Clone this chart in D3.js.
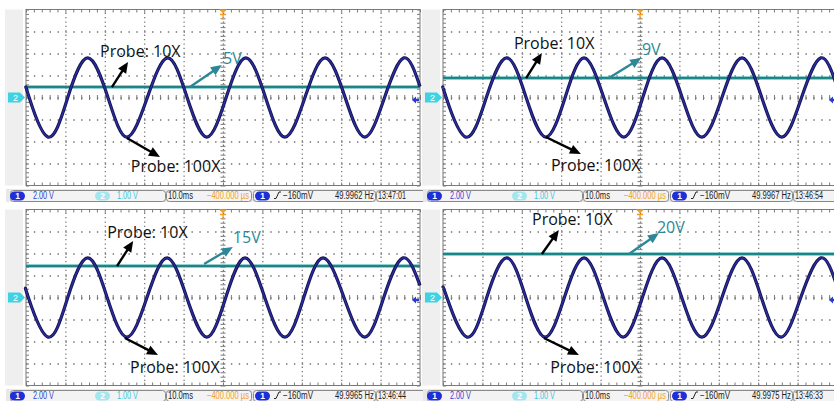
<!DOCTYPE html>
<html>
<head>
<meta charset="utf-8">
<script src="https://cdn.jsdelivr.net/npm/d3@7"></script>
<style>
body{margin:0;background:#fff;}
svg{display:block;}
</style>
</head>
<body>
<div id="chart"></div>
<script>
var w = 834;
var h = 401;

// CH2 (10X probe) trace level in volts, 1 V/div
var levelLabels = ["5V", "9V", "15V", "20V"];
var ch2Levels = [0.48, 0.89, 1.43, 1.98];

var freqLabels = ["49.9962 Hz", "49.9967 Hz", "49.9965 Hz", "49.9975 Hz"];
var clockLabels = ["13:47:01", "13:46:54", "13:46:44", "13:46:33"];
var ch1Scale = "2.00 V";
var ch2Scale = "1.00 V";
var timeBase = "10.0ms";
var delayLabel = "\u2212400.000 \u00b5s";
var trigLabel = "\u2212160mV";
var probeLabels = ["Probe: 10X", "Probe: 100X"];

// CH1 (100X probe) trace: [time ms from left edge, volts] at peaks, troughs and crossings
var waveTL = [[0,0.9],[0.8,0],[5.6,-3.6],[10.6,0],[15.7,3.6],[20.8,0],[25.6,-3.6],[30.8,0],[36.0,3.6],[40.9,0],[45.9,-3.6],[50.8,0],[55.8,3.6],[60.8,0],[65.7,-3.6],[70.8,0],[75.9,3.6],[81.0,0],[86.0,-3.6],[91.0,0],[95.9,3.6],[100,1.0]];
var waveTR = [[0,0.9],[0.8,0],[5.8,-3.6],[11.0,0],[16.2,3.6],[21.1,0],[26.1,-3.6],[31.0,0],[35.8,3.6],[40.8,0],[45.9,-3.6],[50.7,0],[55.6,3.6],[60.7,0],[65.7,-3.6],[70.8,0],[75.9,3.6],[80.9,0],[86.0,-3.6],[91.0,0],[95.9,3.6],[100,1.0]];
var waveBL = [[0,0.7],[0.6,0],[5.6,-3.6],[10.6,0],[15.7,3.6],[20.6,0],[25.6,-3.6],[30.7,0],[35.8,3.6],[40.8,0],[45.9,-3.6],[50.7,0],[55.6,3.6],[60.6,0],[65.7,-3.6],[70.5,0],[75.4,3.6],[80.7,0],[86.0,-3.6],[90.8,0],[95.7,3.6],[100,1.1]];
var waveBR = [[0,0.9],[1.0,0],[6.1,-3.6],[11.1,0],[16.2,3.6],[21.0,0],[25.9,-3.6],[30.8,0],[35.8,3.6],[40.7,0],[45.7,-3.6],[50.6,0],[55.6,3.6],[60.6,0],[65.7,-3.6],[70.8,0],[75.9,3.6],[80.8,0],[85.8,-3.6],[90.8,0],[95.9,3.6],[100,1.0]];
var waves = [waveTL, waveTR, waveBL, waveBR];

// annotation anchors in (ms, CH1 volts): text start, arrow tail, arrow tip
var notes10 = [
	{text:[18.8,3.64], from:[21.8,0.95], to:[25.9,3.23]},
	{text:[18.0,4.45], from:[21.1,1.77], to:[25.1,4.05]},
	{text:[20.6,5.45], from:[23.1,2.86], to:[27.2,5.14]},
	{text:[22.6,6.55], from:[25.1,3.95], to:[29.4,6.14]}
];
var notes100 = [
	{text:[26.6,-6.73], from:[25.6,-3.68], to:[34.0,-5.41]},
	{text:[27.4,-6.64], from:[26.1,-3.59], to:[35.0,-5.14]},
	{text:[26.4,-6.82], from:[25.1,-3.68], to:[33.5,-5.23]},
	{text:[27.2,-6.82], from:[25.6,-3.68], to:[34.5,-5.23]}
];
var notesLevel = [
	{text:[50.0,3.09], from:[41.6,0.95], to:[49.7,2.95]},
	{text:[50.5,3.82], from:[42.1,1.77], to:[50.3,3.59]},
	{text:[52.5,5.0], from:[45.2,3.05], to:[52.5,4.59]},
	{text:[54.3,5.9], from:[47.2,3.95], to:[54.8,5.86]}
];

var offsets = [[0,0],[417,0],[0,200],[417,200]];

function arrow(g, x1, y1, x2, y2, color){
	var dx = x2 - x1, dy = y2 - y1;
	var len = Math.sqrt(dx*dx + dy*dy);
	var ux = dx/len, uy = dy/len;
	var hl = 11, hw = 4.8;
	var bx = x2 - ux*hl, by = y2 - uy*hl;
	g.append("line")
		.attr("x1", x1).attr("y1", y1)
		.attr("x2", bx + ux*2).attr("y2", by + uy*2)
		.attr("stroke", color)
		.attr("stroke-width", 2.4);
	g.append("path")
		.attr("d", "M" + x2 + "," + y2 +
			"L" + (bx - uy*hw) + "," + (by + ux*hw) +
			"L" + (bx + uy*hw) + "," + (by - ux*hw) + "Z")
		.attr("fill", color);
}

// squeeze a status text horizontally to the width seen on the scope
function narrow(t, x, y, width){
	var natural = t.node().getComputedTextLength();
	var sx = width / natural;
	t.attr("x", 0).attr("y", 0)
		.attr("transform", "translate(" + x + "," + y + ") scale(" + sx + ",1)");
}

function init(){
	var svg = d3.select("#chart")
				.append("svg")
				.attr("width", w)
				.attr("height", h);

	svg.append("rect").attr("width", w).attr("height", h).attr("fill", "#fff");

	offsets.forEach(function(o, i){
		var right = (o[0] == 0) ? 422 : w - o[0];
		var g = svg.append("g").attr("transform", "translate(" + o[0] + "," + o[1] + ")");

		var x = d3.scaleLinear().domain([0, 100]).range([26, 420]);
		var y = d3.scaleLinear().domain([-8, 8]).range([185.5, 9.5]);
		var y2 = d3.scaleLinear().domain([-4, 4]).range([185.5, 9.5]);
		var pw = x(100) - x(0), ph = y(-8) - y(8);

		// left margin strip
		g.append("rect")
			.attr("x", 5).attr("y", 9.5)
			.attr("width", 18).attr("height", ph)
			.attr("fill", "#efefef");

		g.append("rect")
			.attr("x", x(0)).attr("y", y(8))
			.attr("width", pw).attr("height", ph)
			.attr("fill", "#fff")
			.attr("stroke", "#7a7a7a");

		// dotted graticule
		var hg = g.append("g")
			.attr("transform", "translate(" + x(0) + ",0)")
			.call(d3.axisLeft(y).tickValues(d3.range(-6, 7, 2)).tickSize(-pw).tickFormat(""));
		hg.select(".domain").remove();
		hg.selectAll("line").attr("stroke", "#6f6f6f").attr("stroke-width", 1.3)
			.attr("stroke-dasharray", "1.4," + (pw/50 - 1.4));

		var vg = g.append("g")
			.attr("transform", "translate(0," + y(-8) + ")")
			.call(d3.axisBottom(x).tickValues(d3.range(10, 100, 10)).tickSize(-ph).tickFormat(""));
		vg.select(".domain").remove();
		vg.selectAll("line").attr("stroke", "#6f6f6f").attr("stroke-width", 1.2)
			.attr("stroke-dasharray", "1.3," + (ph/40 - 1.3));

		// minor ticks on border and centre lines
		var minorX = d3.range(0, 100.01, 2);
		var minorY = d3.range(-8, 8.01, 0.4);
		var ticks = [
			[d3.axisBottom(x).tickValues(minorX).tickSize(-3), "translate(0," + y(-8) + ")"],
			[d3.axisTop(x).tickValues(minorX).tickSize(-3), "translate(0," + y(8) + ")"],
			[d3.axisBottom(x).tickValues(minorX).tickSize(5), "translate(0," + (y(0) - 2.5) + ")"],
			[d3.axisRight(y).tickValues(minorY).tickSize(3), "translate(" + x(0) + ",0)"],
			[d3.axisLeft(y).tickValues(minorY).tickSize(3), "translate(" + x(100) + ",0)"],
			[d3.axisRight(y).tickValues(minorY).tickSize(5), "translate(" + (x(50) - 2.5) + ",0)"]
		];
		ticks.forEach(function(t){
			var a = g.append("g").attr("transform", t[1]).call(t[0].tickFormat(""));
			a.select(".domain").remove();
			a.selectAll("line").attr("stroke", "#7a7a7a");
		});

		// CH2 trace (flat)
		var lvl = ch2Levels[i];
		var flat = d3.line().x(function(d){ return x(d[0]); }).y(function(d){ return y2(d[1]); });
		g.append("path")
			.attr("d", flat([[0, lvl], [100, lvl]]))
			.attr("stroke", "#27a3a3").attr("stroke-width", 3).attr("fill", "none");
		g.append("path")
			.attr("d", flat([[0, lvl], [100, lvl]]))
			.attr("stroke", "#1b5c60").attr("stroke-width", 0.9).attr("fill", "none");

		// CH1 trace (sine)
		var line = d3.line()
			.x(function(d){ return x(d[0]); })
			.y(function(d){ return y(d[1]); })
			.curve(d3.curveNatural);
		g.append("path")
			.attr("d", line(waves[i]))
			.attr("stroke", "#14144a").attr("stroke-width", 3.2).attr("fill", "none");
		g.append("path")
			.attr("d", line(waves[i]))
			.attr("stroke", "#2c2ca8").attr("stroke-width", 1.4).attr("fill", "none");

		// channel 2 ground marker
		var gy = y2(0);
		g.append("path")
			.attr("d", "M8," + (gy-5) + "H20L25," + gy + "L20," + (gy+5) + "H8Z")
			.attr("fill", "#3fd2e2");
		g.append("text")
			.attr("x", 13).attr("y", gy + 3.5)
			.attr("font-family", "Liberation Sans, Arial, sans-serif")
			.attr("font-size", 9).attr("fill", "#fff")
			.text("2");

		// channel 1 marker at right edge
		var cy = y(0) + 2.5;
		g.append("path")
			.attr("d", "M412," + cy + "l4,-3.5v2.3h3v2.4h-3v2.3Z")
			.attr("fill", "#2a3ad8");

		// trigger position marker
		var tx = x(50);
		g.append("path")
			.attr("d", "M" + (tx-4) + "," + y(8) + "h8l-4,4Z")
			.attr("fill", "#f0a030");
		g.append("path")
			.attr("d", "M" + (tx-3) + "," + (y(8)+5) + "h6M" + tx + "," + (y(8)+5) + "v5")
			.attr("stroke", "#f0a030").attr("stroke-width", 1.4);

		// annotations
		var font = "'Open Sans', sans-serif";
		var n = notes10[i];
		arrow(g, x(n.from[0]), y(n.from[1]), x(n.to[0]), y(n.to[1]), "#000");
		g.append("text").attr("x", x(n.text[0])).attr("y", y(n.text[1]))
			.attr("font-family", font).attr("font-size", 16).attr("fill", "#111")
			.text(probeLabels[0]);
		n = notes100[i];
		arrow(g, x(n.from[0]), y(n.from[1]), x(n.to[0]), y(n.to[1]), "#000");
		g.append("text").attr("x", x(n.text[0])).attr("y", y(n.text[1]))
			.attr("font-family", font).attr("font-size", 16).attr("fill", "#111")
			.text(probeLabels[1]);
		n = notesLevel[i];
		arrow(g, x(n.from[0]), y(n.from[1]), x(n.to[0]), y(n.to[1]), "#2c8898");
		g.append("text").attr("x", x(n.text[0])).attr("y", y(n.text[1]))
			.attr("font-family", font).attr("font-size", 16).attr("fill", "#2c8898")
			.text(levelLabels[i]);

		// status bar
		var sb = g.append("g");
		sb.append("rect").attr("x", 6).attr("y", 189).attr("width", right - 6).attr("height", 13)
			.attr("fill", "#e8e8e8");
		var segs = [[10, 155], [166, 85], [253, 122], [376, right + 6 - 376]];
		sb.selectAll(".seg")
			.data(segs)
			.enter()
			.append("rect")
			.attr("x", function(d){ return d[0] + 0.5; })
			.attr("y", 190.5)
			.attr("width", function(d){ return d[1]; })
			.attr("height", 11)
			.attr("rx", 3)
			.attr("fill", "#f3f3f3")
			.attr("stroke", "#8a8a8a");

		var pills = [[10, "#1f2fd8", "1"], [95, "#a4e6ef", "2"], [255, "#1f2fd8", "1"]];
		pills.forEach(function(p){
			sb.append("rect").attr("x", p[0]).attr("y", 191.5).attr("width", 15).attr("height", 9)
				.attr("rx", 4.5).attr("fill", p[1]);
			sb.append("text").attr("x", p[0] + 7.5).attr("y", 199.2)
				.attr("text-anchor", "middle")
				.attr("font-family", "Liberation Sans, Arial, sans-serif")
				.attr("font-size", 8.5).attr("font-weight", "bold").attr("fill", "#fff")
				.text(p[2]);
		});

		var labels = [
			[33, 21, ch1Scale, "#3340d6"],
			[117, 21, ch2Scale, "#3cc6de"],
			[168, 25, timeBase, "#222"],
			[207, 42, delayLabel, "#f2a127"],
			[283, 30, trigLabel, "#222"],
			[335, 39, freqLabels[i], "#222"],
			[378, 28, clockLabels[i], "#222"]
		];
		labels.forEach(function(l){
			var t = sb.append("text")
				.attr("font-family", "Liberation Sans, Arial, sans-serif")
				.attr("font-size", 10)
				.attr("fill", l[3])
				.text(l[2]);
			narrow(t, l[0], 199.3, l[1]);
		});
		sb.append("path")
			.attr("d", "M274,198.5h2l3,-6.5h2")
			.attr("stroke", "#222").attr("stroke-width", 1).attr("fill", "none");
	});
}

window.onload = init;
</script>
</body>
</html>
